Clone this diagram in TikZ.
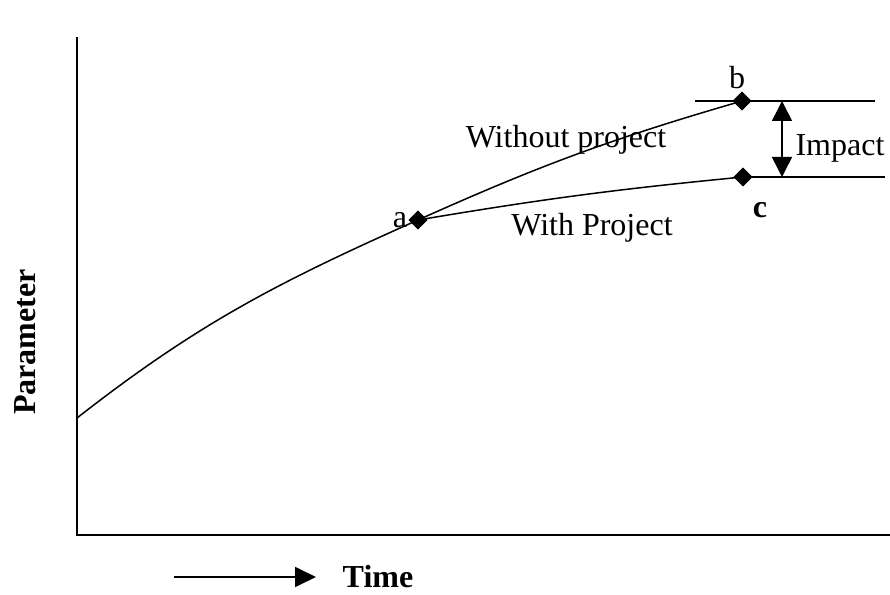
\documentclass[tikz,border=0pt]{standalone}
\usepackage{fontspec}
\setmainfont{Liberation Serif}
\usetikzlibrary{shapes.geometric,arrows.meta,positioning}

\begin{document}
\begin{tikzpicture}[x=0.5pt,y=0.5pt,
		point/.style={diamond,fill=black,inner sep=0pt,minimum size=9.5pt},
		lbl/.style={font=\fontsize{16}{18}\selectfont},
		blbl/.style={font=\fontsize{16}{18}\selectfont\bfseries},
		axis/.style={line width=0.9pt},
		trend/.style={line width=0.75pt}]
		\useasboundingbox (0,0) rectangle (890,595);
		
		\coordinate (o) at (77,60);
		\coordinate (ytop) at (77,558);
		\coordinate (xend) at (890,60);
		\coordinate (s) at (77,177);
		
		\node[point] (a) at (418,375) {};
		\node[point] (b) at (742,494) {};
		\node[point] (c) at (743,418) {};
		
		\node[lbl, left=-3pt of a.west] (alab) {a};
		\node[lbl] (blab) at (737,517) {b};
		\node[blbl] (clab) at (760,385) {c};
		\node[lbl] (wo) at (566,455) {Without project};
		\node[lbl] (wi) at (592,367) {With Project};
		\node[lbl] (imp) at (840,447) {Impact};
		\node[blbl, rotate=90] (par) at (25,253) {Parameter};
		\node[blbl] (time) at (378,18) {Time};
		
		\coordinate (bl) at (695,494);
		\coordinate (br) at (875,494);
		\coordinate (cr) at (885,418);
		\coordinate (itop) at (782,494);
		\coordinate (ibot) at (782,418);
		\coordinate (t0) at (174,18);
		\coordinate (t1) at (316,18);
		
		\draw[axis] (ytop) -- (o) -- (xend);
		\draw[trend] (s) to[out=38,in=204] (a.center);
		\draw[trend] (a.center) to[bend left=4] (b.center);
		\draw[trend] (a.center) to[bend left=2] (c.center);
		\draw[trend] (bl) -- (br);
		\draw[trend] (c.center) -- (cr);
		\draw[trend, {Triangle[width=10pt,length=10pt]}-{Triangle[width=10pt,length=10pt]}] (itop) -- (ibot);
		\draw[axis, -{Triangle[width=10pt,length=10.5pt]}] (t0) -- (t1);
		
		\node[point] at (a) {};
		\node[point] at (b) {};
		\node[point] at (c) {};
\end{tikzpicture}
\end{document}
